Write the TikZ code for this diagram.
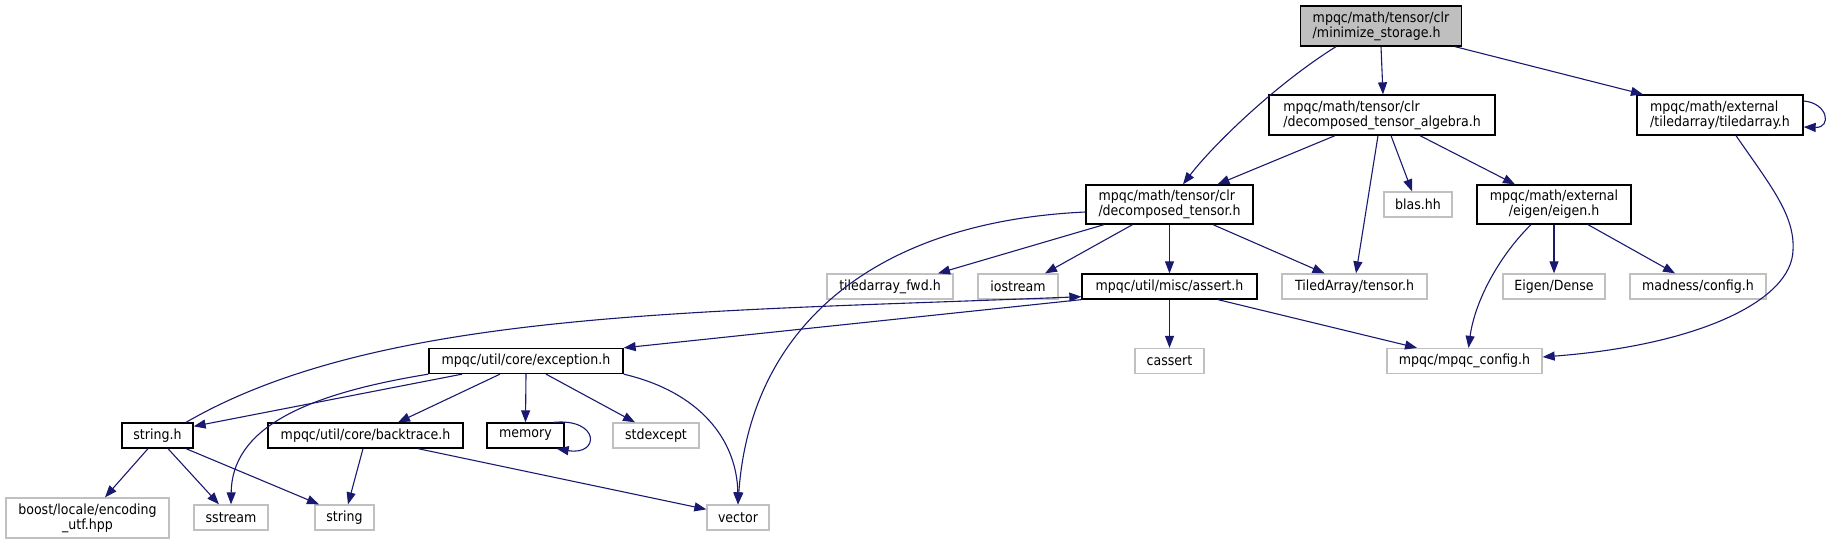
\documentclass[tikz,border=0pt]{standalone}
\usepackage{fontspec}
\setmainfont{DejaVu Sans Condensed}
\usetikzlibrary{arrows.meta}
\definecolor{edgeblue}{HTML}{191970}
\definecolor{rootgray}{HTML}{BFBFBF}
\definecolor{boxgray}{HTML}{C0C0C0}
\tikzset{
  nd/.style={draw=black, line width=1.3pt, fill=white, inner sep=0pt, text=black,
    font=\fontsize{14}{15}\selectfont, minimum height=25pt},
  ndtwo/.style={nd, minimum height=40pt, align=left},
  ext/.style={draw=boxgray, line width=1.3pt, fill=white, inner sep=0pt, text=black,
    font=\fontsize{14}{15}\selectfont, minimum height=25pt},
  root/.style={ndtwo, fill=rootgray},
  edge/.style={draw=edgeblue, line width=1.1pt, -{Triangle[length=12pt,width=9pt]}}
}
\begin{document}
\begin{tikzpicture}[x=1pt,y=-1pt]
\useasboundingbox (0,0) rectangle (1833,544);
% nodes
\node[root, minimum width=161pt] (ms) at (1381,26) {mpqc/math/tensor/clr\\/minimize\_storage.h};
\node[ndtwo, minimum width=226pt] (dta) at (1382,115) {mpqc/math/tensor/clr\\/decomposed\_tensor\_algebra.h};
\node[ndtwo, minimum width=166pt] (ta) at (1720,115) {mpqc/math/external\\/tiledarray/tiledarray.h};
\node[ndtwo, minimum width=167pt, minimum height=39pt] (dt) at (1169.5,204.5) {mpqc/math/tensor/clr\\/decomposed\_tensor.h};
\node[ext, minimum width=68pt] (blas) at (1418,204.5) {blas.hh};
\node[ndtwo, minimum width=154pt, minimum height=39pt, align=center] (eig) at (1554,204.5) {mpqc/math/external\\/eigen/eigen.h};
\node[ext, minimum width=126pt] (fwd) at (890,286.5) {tiledarray\_fwd.h};
\node[ext, minimum width=80pt] (ios) at (1018,286.5) {iostream};
\node[nd, minimum width=175pt] (as) at (1169.5,286.5) {mpqc/util/misc/assert.h};
\node[ext, minimum width=145pt] (tt) at (1354.5,286.5) {TiledArray/tensor.h};
\node[ext, minimum width=102pt] (ed) at (1554,286.5) {Eigen/Dense};
\node[ext, minimum width=136pt] (mad) at (1698,286.5) {madness/config.h};
\node[ext, minimum width=69pt] (cas) at (1169.5,361) {cassert};
\node[ext, minimum width=155pt] (mc) at (1464.5,361) {mpqc/mpqc\_config.h};
\node[nd, minimum width=194pt] (exc) at (526,361) {mpqc/util/core/exception.h};
\node[nd, minimum width=71pt] (sh) at (157.5,435.5) {string.h};
\node[nd, minimum width=195pt] (bt) at (365.5,435.5) {mpqc/util/core/backtrace.h};
\node[nd, minimum width=77pt] (mem) at (525.5,435.5) {memory};
\node[ext, minimum width=86pt] (se) at (656,435.5) {stdexcept};
\node[ext, minimum width=163pt, minimum height=40pt, align=center] (bo) at (87.5,518) {boost/locale/encoding\\\_utf.hpp};
\node[ext, minimum width=74pt] (ss) at (231,517.5) {sstream};
\node[ext, minimum width=59pt] (st) at (344.5,517.5) {string};
\node[ext, minimum width=62pt] (vec) at (738,517.5) {vector};
% edges
\draw[edge] (ms.south) -- ([xshift=1pt]dta.north);
\draw[edge] ([xshift=-45pt]ms.south) .. controls (1276,84) and (1213,145) .. ([xshift=13.5pt]dt.north);
\draw[edge] ([xshift=74pt]ms.south) -- ([xshift=-77pt]ta.north);
\draw[edge] ([yshift=14pt]ta.east) .. controls (1828,103) and (1832,128) .. ([yshift=-12pt]ta.east);
\draw[edge] ([xshift=16pt]ta.south) .. controls (1770,185) and (1795,215) .. (1793,250)
  .. controls (1792,300) and (1700,345) .. ([yshift=4pt]mc.east);
\draw[edge] ([xshift=-47pt]dta.south) -- ([xshift=48pt]dt.north);
\draw[edge] ([xshift=-4pt]dta.south) -- ([xshift=1.5pt]tt.north);
\draw[edge] ([xshift=9pt]dta.south) -- ([xshift=-6pt]blas.north);
\draw[edge] ([xshift=38pt]dta.south) -- ([xshift=-39pt]eig.north);
\draw[edge] ([yshift=-7.5pt]dt.west) .. controls (870,222) and (750,330) .. (vec.north);
\draw[edge] ([xshift=-65.5pt]dt.south) -- ([xshift=48pt]fwd.north);
\draw[edge] ([xshift=-37pt]dt.south) -- ([xshift=27pt]ios.north);
\draw[edge] (dt.south) -- (as.north);
\draw[edge] ([xshift=43.5pt]dt.south) -- ([xshift=-30pt]tt.north);
\draw[edge] (eig.south) -- (ed.north);
\draw[edge] ([xshift=34pt]eig.south) -- ([xshift=-23pt]mad.north);
\draw[edge] ([xshift=-23pt]eig.south) .. controls (1500,255) and (1475,300) .. ([xshift=4pt]mc.north);
\draw[edge] (as.south) -- (cas.north);
\draw[edge] ([xshift=48.5pt]as.south) -- ([xshift=-47.5pt]mc.north);
\draw[edge] (as.south west) -- (exc.north east);
\draw[edge] ([xshift=28.5pt]sh.north) .. controls (380,310) and (700,312) .. ([yshift=3pt]as.south west);
\draw[edge] ([xshift=-64pt]exc.south) -- ([yshift=-4pt]sh.north east);
\draw[edge] (exc.south west) .. controls (300,395) and (232,430) .. (ss.north);
\draw[edge] ([xshift=-26pt]exc.south) -- ([xshift=32.5pt]bt.north);
\draw[edge] (exc.south) -- (mem.north);
\draw[edge] ([xshift=-11pt]mem.north east) .. controls (600,418) and (600,456) .. ([xshift=-8pt]mem.south east);
\draw[edge] ([xshift=20pt]exc.south) -- ([xshift=-21pt]se.north);
\draw[edge] (exc.south east) .. controls (700,392) and (737,440) .. (vec.north);
\draw[edge] ([xshift=-9.5pt]sh.south) -- ([xshift=17.5pt]bo.north);
\draw[edge] ([xshift=10.5pt]sh.south) -- ([xshift=-12pt]ss.north);
\draw[edge] ([xshift=28.5pt]sh.south) -- ([xshift=-25.5pt]st.north);
\draw[edge] ([xshift=-2.5pt]bt.south) -- ([xshift=3.5pt]st.north);
\draw[edge] ([xshift=52.5pt]bt.south) -- ([yshift=-5pt]vec.north west);
\end{tikzpicture}
\end{document}
